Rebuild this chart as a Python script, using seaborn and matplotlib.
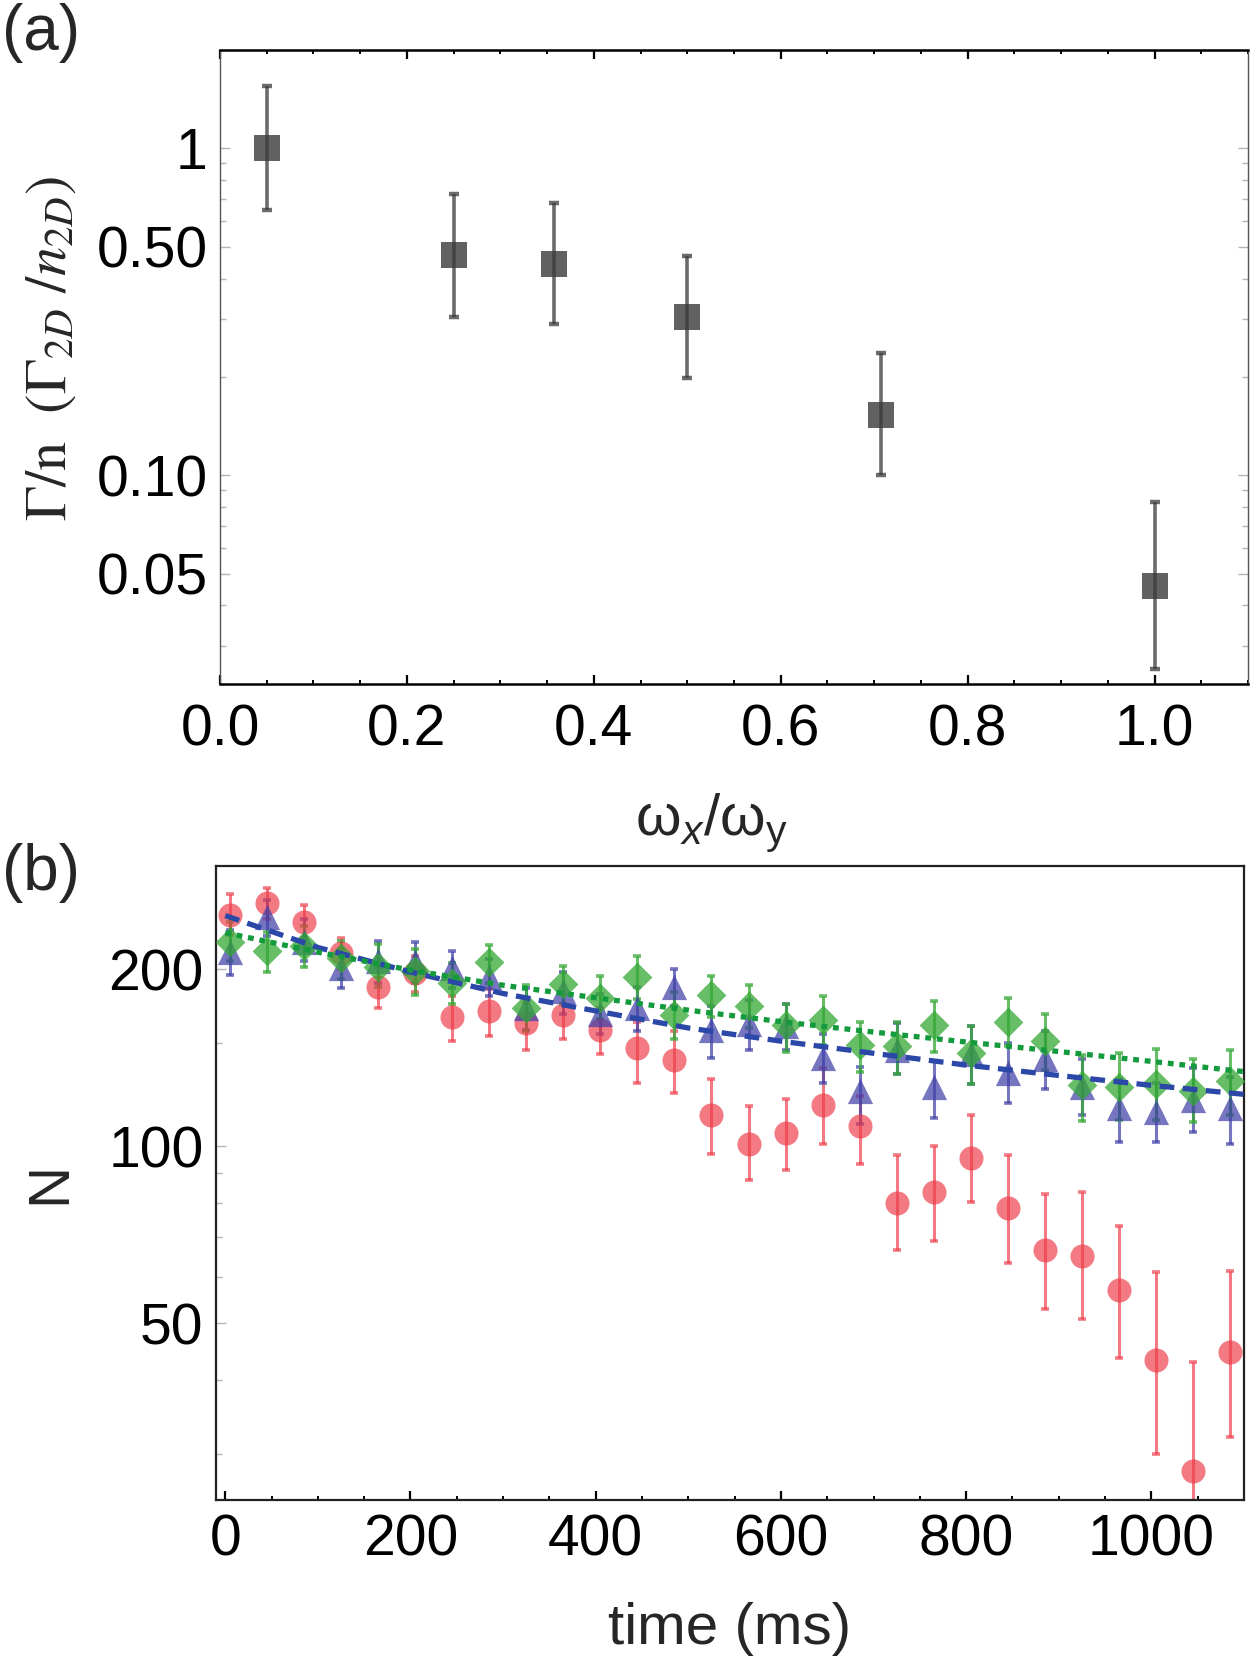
import seaborn as sns
import pandas as pd
import matplotlib.pyplot as plt
import numpy as np
from matplotlib.ticker import FixedLocator, MultipleLocator, NullFormatter

# panel (a): loss rate vs trap aspect ratio
ratio = [0.05, 0.25, 0.357, 0.5, 0.707, 1.0]
rate = [1.0, 0.471, 0.443, 0.305, 0.153, 0.046]
rate_lo = [0.648, 0.304, 0.290, 0.199, 0.100, 0.0256]
rate_hi = [1.55, 0.724, 0.681, 0.469, 0.236, 0.083]

# panel (b): atom number vs hold time
t_ms = [5, 45, 85, 125, 165, 205, 245, 285, 325, 365, 405, 445, 485, 525,
        565, 605, 645, 685, 725, 765, 805, 845, 885, 925, 965, 1005, 1045, 1085]

red = [248, 259, 241, 213, 187, 197, 166, 170, 162, 167, 158, 147, 140, 113,
       101, 105.3, 117.6, 108.5, 80.2, 83.6, 95.7, 78.4, 66.5, 65.1, 57, 43.2, 28, 44.6]
red_lo = [229, 244, 226, 200, 172, 183, 151, 154, 146, 152.5, 143.6, 128, 123, 97,
          87.7, 91, 101, 93.4, 66.5, 69, 80.5, 63.2, 52.9, 50.9, 43.7, 30, 18, 32]
red_hi = [269, 275, 257, 226, 202, 211, 180, 185, 176, 182, 172, 163, 157, 130,
          117, 120.6, 136.1, 121.7, 96.6, 100.1, 113, 96.6, 82.8, 83.6, 73.1, 61.1, 43, 61.3]

blue = [214, 246, 223, 201, 207, 206, 201, 194, 172, 184, 168, 172, 187, 157.7,
        161.3, 160, 141.5, 124.2, 146, 126.4, 143.6, 133.3, 140.7, 126.4, 116.2, 114.6, 120.1, 116.2]
blue_lo = [195.5, 228, 207, 186, 190, 190, 186, 180, 158, 168, 155, 157, 173, 141.5,
           145.9, 146, 128, 109, 133, 111.8, 127.5, 118.6, 125, 113, 101.6, 101.6, 105.9, 101]
blue_hi = [233, 263, 244, 217, 224, 223, 215, 208, 186, 198, 182, 187, 200, 173.4,
           177.6, 175, 155.6, 136.2, 162, 139.7, 160, 150, 157.2, 141, 130, 128, 135.8, 131.3]

green = [223, 215, 219, 209, 202, 199, 190, 206, 172, 189, 179, 194, 167, 181,
         173, 161, 164, 149, 148, 161, 144, 163, 151, 127, 126.4, 127.6, 124.4, 129.2]
green_lo = [207, 198, 202, 192.5, 187, 181, 175, 190, 157, 175, 165, 178, 152, 166,
            159, 145, 149, 134, 133, 145, 127.5, 148, 135, 110.4, 110.8, 111, 110, 113]
green_hi = [241, 232, 237, 224, 221, 217, 205, 220, 188, 202.5, 195, 211, 183, 195,
            188, 175, 180, 162.5, 162.5, 177, 160, 179, 168, 143, 144.3, 146.4, 140.6, 146]

# fit curves
fit_t = [0, 100, 200, 300, 400, 500, 600, 700, 800, 900, 1000, 1100]
fit_blue = [247, 218, 198, 182, 170, 159, 151, 144, 137.5, 132, 127, 122.6]
fit_green = [231, 214, 199.5, 188, 179, 170.5, 163, 156.5, 150.5, 145, 139.5, 134]

sns.set_theme(style="ticks")
plt.rcParams["font.family"] = ["Liberation Sans", "DejaVu Sans"]
plt.rcParams["mathtext.fontset"] = "custom"
plt.rcParams["mathtext.rm"] = "Liberation Sans"
plt.rcParams["mathtext.it"] = "Liberation Sans:italic"
plt.rcParams["mathtext.bf"] = "Liberation Sans:bold"

FS = 41

fig = plt.figure(figsize=(12.5, 16.66), dpi=100)
ax1 = fig.add_axes([0.176, 0.5894, 0.8224, 0.3806])
ax2 = fig.add_axes([0.1728, 0.0996, 0.8224, 0.3806])

# ---- panel (a)
ax1.set_yscale("log")
dfa = pd.DataFrame({"ratio": ratio, "rate": rate})
yerr_a = [np.array(rate) - np.array(rate_lo), np.array(rate_hi) - np.array(rate)]
ax1.errorbar(ratio, rate, yerr=yerr_a, fmt="none", ecolor="#3a3a3a", alpha=0.75,
             elinewidth=2.6, capsize=3.5, capthick=3.2, zorder=2)
sns.scatterplot(data=dfa, x="ratio", y="rate", ax=ax1, marker="s", s=330,
                color="#3a3a3a", alpha=0.8, linewidth=0, zorder=3)
ax1.set_xlim(0, 1.1)
ax1.set_ylim(0.023, 2.0)
ax1.xaxis.set_minor_locator(MultipleLocator(0.05))
ax1.set_xticks([0, 0.2, 0.4, 0.6, 0.8, 1.0])
ax1.set_xticklabels(["0.0", "0.2", "0.4", "0.6", "0.8", "1.0"])
ax1.yaxis.set_major_locator(FixedLocator([0.05, 0.1, 0.5, 1.0]))
ax1.yaxis.set_minor_locator(FixedLocator([0.03, 0.04, 0.06, 0.07, 0.08, 0.09,
                                          0.2, 0.3, 0.4, 0.6, 0.7, 0.8, 0.9]))
ax1.set_yticklabels(["0.05", "0.10", "0.50", "1"])
ax1.yaxis.set_minor_formatter(NullFormatter())
ax1.tick_params(axis="x", which="both", direction="in", top=True, bottom=True,
                colors="black", labelsize=FS, pad=14)
ax1.tick_params(axis="x", which="major", length=6.5, width=1.6)
ax1.tick_params(axis="x", which="minor", length=3.2, width=1.4)
ax1.tick_params(axis="y", which="both", direction="in", left=True, right=True,
                color="#b5b5b5", labelcolor="black", labelsize=FS, pad=9)
ax1.tick_params(axis="y", which="major", length=7, width=1)
ax1.tick_params(axis="y", which="minor", length=4, width=1)
for side in ["top", "bottom"]:
    ax1.spines[side].set_linewidth(1.8)
    ax1.spines[side].set_color("black")
for side in ["left", "right"]:
    ax1.spines[side].set_linewidth(1.0)
    ax1.spines[side].set_color("#555555")
ax1.set_xlabel(r"ω$_x$/ω$_\mathrm{y}$", fontsize=42)
ax1.xaxis.set_label_coords(0.478, -0.17)
ax1.set_ylabel(r"$\Gamma/\mathrm{n}\ \ (\Gamma_{\mathit{2D}}\ /n_{\mathit{2D}})$",
               fontsize=42, math_fontfamily="stix")
ax1.yaxis.set_label_coords(-0.138, 0.53)

# ---- panel (b)
ax2.set_yscale("log")
series = [
    (red, red_lo, red_hi, "o", "#ee3b48", 0.68, 300),
    (blue, blue_lo, blue_hi, "^", "#4040a8", 0.72, 330),
    (green, green_lo, green_hi, "D", "#34a834", 0.75, 230),
]
for vals, lo, hi, mk, col, al, size in series:
    v = np.array(vals)
    yerr = [v - np.array(lo), np.array(hi) - v]
    ax2.errorbar(t_ms, vals, yerr=yerr, fmt="none", ecolor=col, alpha=al,
                 elinewidth=2.2, capsize=2.8, capthick=2.6, zorder=2)
    sns.scatterplot(x=t_ms, y=vals, ax=ax2, marker=mk, s=size, color=col,
                    alpha=al, linewidth=0, zorder=3)

sns.lineplot(x=fit_t, y=fit_blue, ax=ax2, color="#2b47a8", linewidth=3.8,
             linestyle=(0, (2.8, 1.6)), zorder=4)
sns.lineplot(x=fit_t, y=fit_green, ax=ax2, color="#139a3c", linewidth=3.8,
             linestyle=(0, (1.1, 1.1)), zorder=4)

ax2.set_xlim(-10, 1100)
ax2.set_ylim(25, 300)
ax2.xaxis.set_major_locator(MultipleLocator(200))
ax2.xaxis.set_minor_locator(MultipleLocator(50))
ax2.yaxis.set_major_locator(FixedLocator([50, 100, 200]))
ax2.yaxis.set_minor_locator(FixedLocator([30, 40, 60, 70, 80, 90, 150]))
ax2.set_yticklabels(["50", "100", "200"])
ax2.yaxis.set_minor_formatter(NullFormatter())
ax2.tick_params(axis="x", which="both", direction="in", top=False, bottom=True,
                colors="black", labelsize=FS, pad=10)
ax2.tick_params(axis="x", which="major", length=6.5, width=1.6)
ax2.tick_params(axis="x", which="minor", length=3.2, width=1.4)
ax2.tick_params(axis="y", which="both", direction="in", left=True, right=False,
                color="#b5b5b5", labelcolor="black", labelsize=FS, pad=9)
ax2.tick_params(axis="y", which="major", length=7, width=1)
ax2.tick_params(axis="y", which="minor", length=4, width=1)
for side in ["top", "bottom", "left", "right"]:
    ax2.spines[side].set_linewidth(1.6)
    ax2.spines[side].set_color("#222222")
ax2.set_xlabel("time (ms)", fontsize=42)
ax2.xaxis.set_label_coords(0.5, -0.16)
ax2.set_ylabel("N", fontsize=42)
ax2.yaxis.set_label_coords(-0.135, 0.5)

fig.text(0.002, 0.998, "(a)", fontsize=46, va="top", ha="left")
fig.text(0.002, 0.494, "(b)", fontsize=46, va="top", ha="left")

fig.savefig("out.png", dpi=100)
